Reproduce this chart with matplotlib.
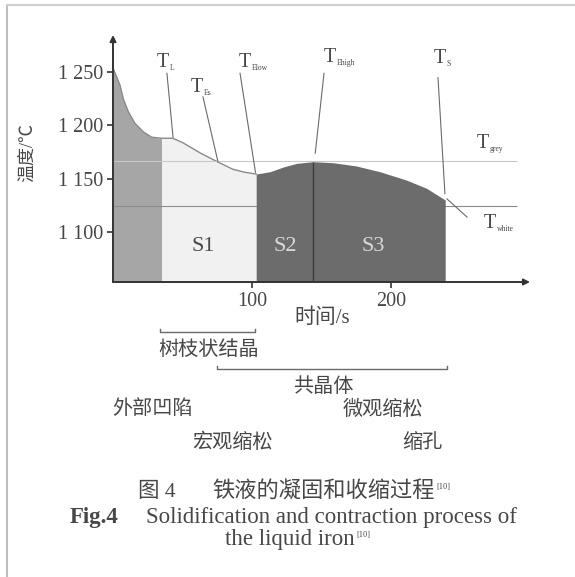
import matplotlib
matplotlib.use("Agg")
import matplotlib.pyplot as plt
import matplotlib.transforms as mtransforms
import numpy as np

plt.rcParams["font.family"] = ["Liberation Serif", "Noto Sans CJK SC", "DejaVu Sans"]

# ===== 数据 =====
time_s = [0, 2.5, 5, 7.4, 11, 15.8, 21.8, 27.8, 35, 43, 50, 63, 75, 86, 95,
          103, 113, 122.5, 132, 144, 158.5, 175, 192, 211, 225.6, 239]
temp_c = [1254, 1246, 1238, 1225, 1213, 1202, 1194, 1189, 1188, 1188, 1184,
          1174, 1166, 1159, 1156, 1154.4, 1156.6, 1161, 1164.4, 1166, 1165,
          1162, 1156.6, 1148.8, 1141, 1130]
stage_edges = [0, 35, 103, 144, 239]
stage_colors = ["#a6a6a6", "#f1f1f1", "#6c6c6c", "#6c6c6c"]
stage_names = ["", "S1", "S2", "S3"]
stage_label_x = [0, 65, 124, 187]
T_grey = 1167
T_white = 1124
yticks = [1100, 1150, 1200, 1250]
ytick_labels = ["1 100", "1 150", "1 200", "1 250"]
xticks = [100, 200]
T_MIN, T_MAX = 1053, 1285
X_MAX = 300

TXT = "#474747"

fig = plt.figure(figsize=(5.75, 5.77), dpi=100)
ax = fig.add_axes([113 / 575, 1 - 282 / 577, 417 / 575, 247 / 577])
ax.set_xlim(0, X_MAX)
ax.set_ylim(T_MIN, T_MAX)
for s in ax.spines.values():
    s.set_visible(False)

t = np.array(time_s)
T = np.array(temp_c)

# 分区填色: 浅色区在下, 参考线在中间, 深色区在上
for i in range(4):
    a, b = stage_edges[i], stage_edges[i + 1]
    z = 1 if i < 2 else 3
    ax.fill_between(t, T, T_MIN, where=(t >= a) & (t <= b),
                    color=stage_colors[i], lw=0, zorder=z)
ax.plot(t[t <= 103], T[t <= 103], color="#8a8a8a", lw=1.0, zorder=2)
ax.vlines(144, T_MIN, 1166, color="#3c3c3c", lw=1.0, zorder=4)

ax.hlines(T_grey, 0, 291, color="#c8c8c8", lw=0.8, zorder=2)
ax.hlines(T_white, 0, 291, color="#8c8c8c", lw=0.8, zorder=2)

for name, xl, c in zip(stage_names, stage_label_x,
                       ["", "#4a4a4a", "#d8d8d8", "#d8d8d8"]):
    if name:
        ax.text(xl, 1086, name, ha="center", va="center", fontsize=16,
                color=c, zorder=5)


# 标注线 T_x
def tlabel(x, y, sub, line=None):
    ax.text(x, y, "T", ha="center", va="center", fontsize=14.5, color=TXT)
    ax.annotate(sub, (x, y), xytext=(5, -4), textcoords="offset points",
                fontsize=5.5, color=TXT, ha="left", va="center",
                annotation_clip=False)
    if line:
        x0, y0, x1, y1 = line
        ax.plot([x0, x1], [y0, y1], color="#6a6a6a", lw=0.8, zorder=6,
                clip_on=False)


tlabel(36, 1259, "L", (38.8, 1249, 43.2, 1189))
tlabel(60, 1236, "Es", (64.7, 1227, 75.5, 1166))
tlabel(95, 1259, "Elow", (91.4, 1249, 102.5, 1156))
tlabel(156, 1264, "Ehigh", (151.8, 1249, 145.5, 1174))
tlabel(235, 1263, "S", (233.8, 1245, 238.8, 1136))
tlabel(266, 1183, "grey")
tlabel(271, 1108, "white", (240.3, 1131, 254.7, 1114))

# 坐标轴(带箭头)
for xy in [(0, T_MAX), (X_MAX, T_MIN)]:
    ax.annotate("", xy=xy, xytext=(0, T_MIN),
                arrowprops=dict(arrowstyle="-|>", color="#333333", lw=1.4,
                                mutation_scale=9, shrinkA=0, shrinkB=0),
                annotation_clip=False)
ax.set_yticks(yticks)
ax.set_yticklabels(ytick_labels)
ax.set_xticks(xticks)
ax.tick_params(length=4, width=1.2, color="#333333", labelsize=14.5,
               labelcolor=TXT, pad=3)

fig.text(28 / 575, 1 - 153 / 577, "温度/℃", rotation=90, ha="center",
         va="center", fontsize=13, color=TXT)
fig.text(322 / 575, 1 - 318 / 577, "时间/s", ha="center", va="center",
         fontsize=15, color=TXT)

# 下方阶段括号
blend = mtransforms.blended_transform_factory(ax.transData, fig.transFigure)
for (a, b), yy in [((34, 102), 1 - 332 / 577), ((75, 240), 1 - 369 / 577)]:
    ax.plot([a, a, b, b], [yy + 0.005, yy, yy, yy + 0.005], color="#6a6a6a",
            lw=1.0, transform=blend, clip_on=False)

for s, px, py in [("树枝状结晶", 209, 350), ("共晶体", 323, 388),
                  ("外部凹陷", 152, 410), ("微观缩松", 383, 410),
                  ("宏观缩松", 232, 443), ("缩孔", 422, 443)]:
    fig.text(px / 575, 1 - py / 577, s, ha="center", va="center",
             fontsize=14.5, color=TXT)

# 图题
fig.text(138 / 575, 1 - 492 / 577, "图 4", ha="left", va="center",
         fontsize=15.5, color=TXT)
fig.text(435 / 575, 1 - 492 / 577, "铁液的凝固和收缩过程", ha="right",
         va="center", fontsize=16, color=TXT)
fig.text(436 / 575, 1 - 487 / 577, "[10]", ha="left", va="center",
         fontsize=6, color=TXT)
fig.text(70 / 575, 1 - 518 / 577, "Fig.4", ha="left", va="center",
         fontsize=16.5, color=TXT, fontweight="bold")
fig.text(517 / 575, 1 - 518 / 577, "Solidification and contraction process of",
         ha="right", va="center", fontsize=16.5, color=TXT)
fig.text(355 / 575, 1 - 540 / 577, "the liquid iron", ha="right",
         va="center", fontsize=16.5, color=TXT)
fig.text(356 / 575, 1 - 535 / 577, "[10]", ha="left", va="center",
         fontsize=6, color=TXT)

# 外框线
fig.add_artist(plt.Line2D([7 / 575, 7 / 575], [0, 1 - 5 / 577],
                          color="#bdbdbd", lw=1.5))
fig.add_artist(plt.Line2D([7 / 575, 1], [1 - 5 / 577, 1 - 5 / 577],
                          color="#cfcfcf", lw=1.5))

fig.savefig("out.png", dpi=100)
